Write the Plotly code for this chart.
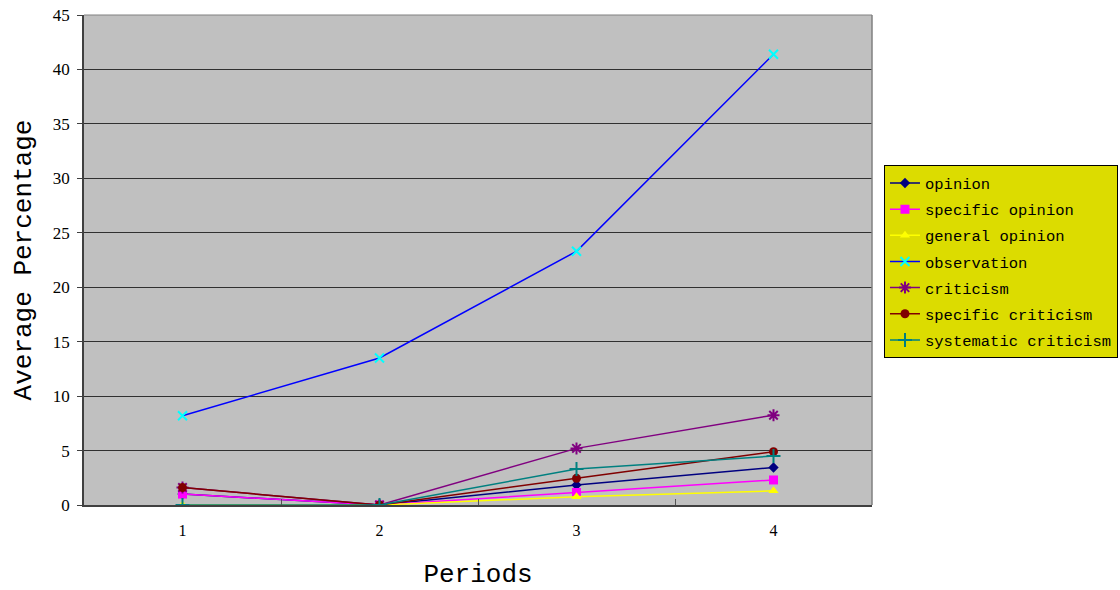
import plotly.graph_objects as go

periods = ["1", "2", "3", "4"]

opinion = [1.0, 0.0, 1.84, 3.45]
specific_opinion = [1.0, 0.0, 1.15, 2.3]
general_opinion = [0.0, 0.0, 0.75, 1.3]
observation = [8.2, 13.5, 23.3, 41.4]
criticism = [1.6, 0.0, 5.2, 8.25]
specific_criticism = [1.6, 0.0, 2.45, 4.9]
systematic_criticism = [0.0, 0.0, 3.3, 4.5]

series = [
    ("opinion", opinion, "#000080", dict(symbol="diamond", size=8, color="#000080")),
    ("specific opinion", specific_opinion, "#FF00FF", dict(symbol="square", size=9, color="#FF00FF")),
    ("general opinion", general_opinion, "#FFFF00", dict(symbol="triangle-up", size=9, color="#FFFF00")),
    ("observation", observation, "#0000FF",
     dict(symbol="x-thin-open", size=9, color="#00FFFF", line=dict(color="#00FFFF", width=2))),
    ("criticism", criticism, "#800080",
     dict(symbol="asterisk-open", size=10, color="#800080", line=dict(color="#800080", width=2))),
    ("specific criticism", specific_criticism, "#800000", dict(symbol="circle", size=9, color="#800000")),
    ("systematic criticism", systematic_criticism, "#008080",
     dict(symbol="cross-thin-open", size=10, color="#008080", line=dict(color="#008080", width=2))),
]

text_font = "Liberation Mono, DejaVu Sans Mono, monospace"
num_font = "Liberation Serif, DejaVu Serif, serif"

fig = go.Figure()
for i, (name, vals, col, mk) in enumerate(series):
    fig.add_trace(go.Scatter(
        x=periods, y=vals, name=name, mode="lines+markers",
        line=dict(color=col, width=1.5), marker=mk,
        legendgroup=f"g{i}",
    ))

fig.update_layout(
    width=1120, height=590,
    margin=dict(l=84, r=248, t=15, b=85, autoexpand=False),
    paper_bgcolor="white",
    plot_bgcolor="#C0C0C0",
    font=dict(family=text_font, color="black", size=15),
    showlegend=True,
    legend=dict(
        x=1.0152, xanchor="left", y=0.693, yanchor="top",
        bgcolor="#DCDC00", bordercolor="black", borderwidth=1,
        font=dict(family=text_font, size=15.5, color="black"),
        itemwidth=30, tracegroupgap=3,
    ),
    xaxis=dict(
        type="category", range=[-0.5, 3.5], automargin=False,
        showline=True, linecolor="#404040", linewidth=1.5,
        ticks="inside", tickson="boundaries", ticklen=6, tickcolor="#555555",
        showgrid=False, mirror=False,
        tickfont=dict(family=num_font, size=16),
        ticklabelstandoff=10,
        title=dict(text="Periods", font=dict(family=text_font, size=26), standoff=26),
    ),
    yaxis=dict(
        range=[0, 45], dtick=5, tick0=0, automargin=False,
        showline=True, linecolor="#404040", linewidth=1.5,
        ticks="outside", ticklen=5, tickcolor="#404040",
        showgrid=True, gridcolor="#303030", gridwidth=1,
        zeroline=False,
        tickfont=dict(family=num_font, size=17),
        ticklabelstandoff=4,
        title=dict(text="Average Percentage", font=dict(family=text_font, size=26), standoff=14),
    ),
)

# light frame on the top and right edges of the plot area
fig.add_shape(type="line", xref="paper", yref="paper", x0=0, x1=1, y0=1, y1=1,
              line=dict(color="#808080", width=1))
fig.add_shape(type="line", xref="paper", yref="paper", x0=1, x1=1, y0=0, y1=1,
              line=dict(color="#808080", width=1.5))

fig.write_html("out.html")
